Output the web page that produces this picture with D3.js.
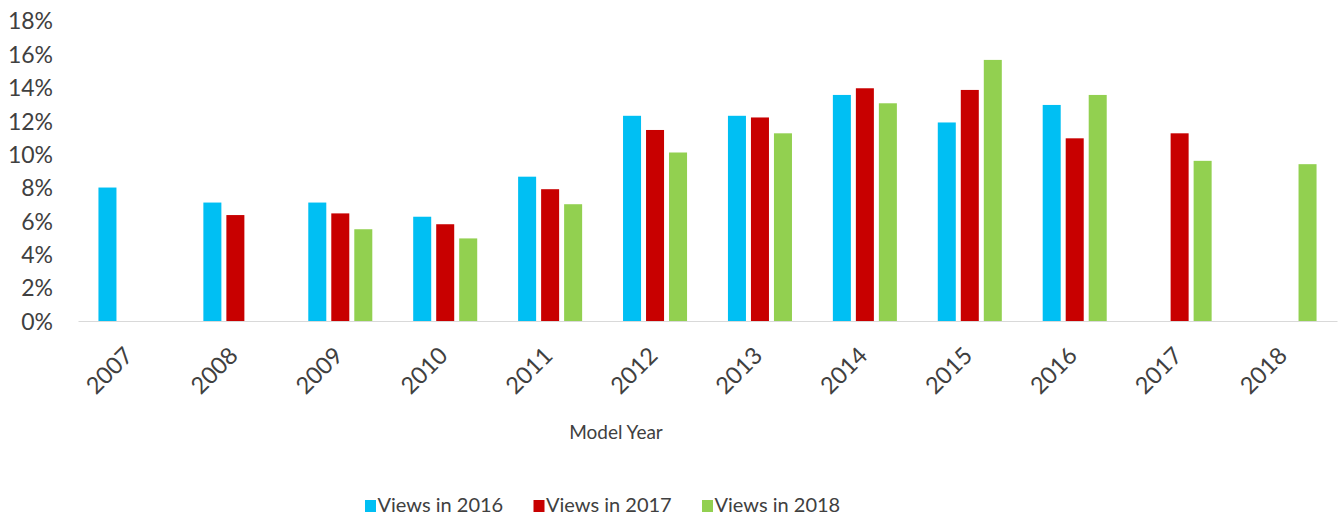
<!DOCTYPE html>
<html>
<head>
<meta charset="utf-8">
<script src="https://cdn.jsdelivr.net/npm/d3@7"></script>
<style>
  html, body { margin: 0; padding: 0; background: #fff; }
  svg { display: block; font-family: Lato, "Open Sans", sans-serif; }
  .axis-y text, .axis-x text { fill: #404040; }
</style>
</head>
<body>
<svg id="chart" width="1343" height="516"></svg>
<script>
const modelYears = ['2007', '2008', '2009', '2010', '2011', '2012', '2013', '2014', '2015', '2016', '2017', '2018'];
const seriesNames = ['Views in 2016', 'Views in 2017', 'Views in 2018'];
const seriesColors = ['#00BFF3', '#C80000', '#92D050'];
// share of views, per model year (null = no bar)
const views2016 = [8.0, 7.1, 7.1, 6.25, 8.65, 12.3, 12.3, 13.55, 11.9, 12.95, null, null];
const views2017 = [null, 6.35, 6.45, 5.8, 7.9, 11.45, 12.2, 13.95, 13.85, 10.95, 11.25, null];
const views2018 = [null, null, 5.5, 4.95, 7.0, 10.1, 11.25, 13.05, 15.65, 13.55, 9.6, 9.4];
const yTicks = [0, 2, 4, 6, 8, 10, 12, 14, 16, 18];
const xTitle = 'Model Year';

const
  PLOT_LEFT = 78,
  PLOT_RIGHT = 1337,
  PLOT_TOP = 20.7,
  PLOT_BOTTOM = 321,
  LEGEND_STEP = 168.5,
  TEXT_COLOR = '#404040';

const svg = d3.select('#chart');
const seriesValues = [views2016, views2017, views2018];

const x0 = d3.scaleBand()
  .domain(modelYears)
  .range([PLOT_LEFT, PLOT_RIGHT])
  .padding(0);

const x1 = d3.scaleBand()
  .domain(seriesNames)
  .range([0, x0.bandwidth()])
  .paddingInner(0.217)
  .paddingOuter(0.889);

const y = d3.scaleLinear()
  .domain([0, 18])
  .range([PLOT_BOTTOM, PLOT_TOP]);

// y axis labels, no line
const yAxis = d3.axisLeft(y)
  .tickValues(yTicks)
  .tickFormat(d => d + '%')
  .tickSize(0)
  .tickPadding(0);

const yAxisGroup = svg.append('g')
  .attr('class', 'axis-y')
  .attr('transform', 'translate(53,0)')
  .call(yAxis);
yAxisGroup.select('.domain').remove();
yAxisGroup.selectAll('text')
  .attr('font-size', 23)
  .attr('font-family', 'Lato, sans-serif')
  .attr('dy', '0.36em');

// bars
const groups = svg.append('g')
  .attr('class', 'bars')
  .selectAll('g')
  .data(modelYears)
  .enter()
  .append('g')
  .attr('transform', d => `translate(${x0(d)},0)`);

groups.selectAll('rect')
  .data((d, i) => seriesNames.map((name, s) => ({ name, s, value: seriesValues[s][i] })))
  .enter()
  .filter(d => d.value !== null)
  .append('rect')
  .attr('x', d => x1(d.name))
  .attr('y', d => y(d.value))
  .attr('width', x1.bandwidth())
  .attr('height', d => y(0) - y(d.value))
  .attr('fill', d => seriesColors[d.s]);

// x axis
const xAxis = d3.axisBottom(x0)
  .tickSize(0)
  .tickPadding(0);

const xAxisGroup = svg.append('g')
  .attr('class', 'axis-x')
  .attr('transform', `translate(0,${PLOT_BOTTOM})`)
  .call(xAxis);
xAxisGroup.select('.domain')
  .attr('stroke', '#d9d9d9')
  .attr('stroke-width', 1.2);
xAxisGroup.selectAll('text')
  .attr('font-size', 23.5)
  .attr('font-family', 'Lato, sans-serif')
  .attr('text-anchor', 'end')
  .attr('y', 0)
  .attr('dy', 0)
  .attr('transform', 'translate(4,36) rotate(-45)');

// axis title
svg.append('text')
  .attr('x', 616)
  .attr('y', 439)
  .attr('text-anchor', 'middle')
  .attr('font-size', 19)
  .attr('fill', TEXT_COLOR)
  .text(xTitle);

// legend
const legend = svg.append('g')
  .attr('class', 'legend')
  .attr('transform', 'translate(365,0)');

const items = legend.selectAll('g')
  .data(seriesNames)
  .enter()
  .append('g')
  .attr('transform', (d, i) => `translate(${i * LEGEND_STEP},0)`);

items.append('rect')
  .attr('x', 0)
  .attr('y', 500)
  .attr('width', 11)
  .attr('height', 12)
  .attr('fill', (d, i) => seriesColors[i]);

items.append('text')
  .attr('x', 12.5)
  .attr('y', 512)
  .attr('font-size', 20)
  .attr('fill', TEXT_COLOR)
  .text(d => d);
</script>
</body>
</html>
